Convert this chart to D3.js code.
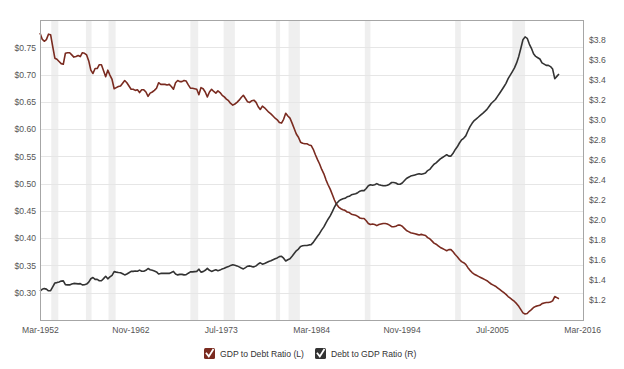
<!DOCTYPE html>
<html>
<head>
<meta charset="utf-8">
<script src="https://cdn.jsdelivr.net/npm/d3@7"></script>
<style>
  html, body { margin: 0; padding: 0; background: #fff; }
  svg { display: block; font-family: Arial, 'Liberation Sans', sans-serif; }
</style>
</head>
<body>
<svg id="chart" width="624" height="369"></svg>
<script>
// quarterly series, first point Mar-1952
const START = '1952-03';

const GDP_TO_DEBT = [
  0.776, 0.765, 0.761, 0.764, 0.774, 0.773, 0.751, 0.730, 0.728, 0.724,
  0.720, 0.719, 0.739, 0.740, 0.740, 0.736, 0.732, 0.733, 0.735, 0.733,
  0.740, 0.739, 0.736, 0.725, 0.708, 0.702, 0.711, 0.711, 0.718, 0.718,
  0.707, 0.696, 0.708, 0.699, 0.691, 0.674, 0.676, 0.678, 0.679, 0.684,
  0.689, 0.685, 0.679, 0.673, 0.673, 0.671, 0.672, 0.667, 0.672, 0.672,
  0.668, 0.660, 0.666, 0.668, 0.671, 0.675, 0.685, 0.682, 0.682, 0.682,
  0.681, 0.682, 0.678, 0.673, 0.685, 0.689, 0.687, 0.687, 0.689, 0.688,
  0.681, 0.675, 0.675, 0.674, 0.673, 0.663, 0.676, 0.674, 0.668, 0.659,
  0.668, 0.673, 0.669, 0.666, 0.670, 0.667, 0.662, 0.659, 0.655, 0.652,
  0.647, 0.644, 0.646, 0.649, 0.653, 0.658, 0.662, 0.656, 0.650, 0.649,
  0.652, 0.653, 0.649, 0.641, 0.636, 0.642, 0.639, 0.635, 0.631, 0.628,
  0.624, 0.620, 0.617, 0.612, 0.611, 0.618, 0.629, 0.624, 0.620, 0.611,
  0.601, 0.591, 0.585, 0.576, 0.574, 0.573, 0.573, 0.571, 0.570, 0.563,
  0.553, 0.544, 0.536, 0.526, 0.518, 0.507, 0.498, 0.490, 0.480, 0.470,
  0.462, 0.457, 0.454, 0.452, 0.451, 0.448, 0.447, 0.444, 0.443, 0.442,
  0.440, 0.437, 0.436, 0.436, 0.432, 0.427, 0.425, 0.426, 0.425, 0.423,
  0.425, 0.426, 0.427, 0.427, 0.426, 0.424, 0.421, 0.421, 0.422, 0.424,
  0.424, 0.422, 0.418, 0.414, 0.412, 0.410, 0.409, 0.408, 0.407, 0.406,
  0.407, 0.406, 0.405, 0.401, 0.399, 0.395, 0.391, 0.389, 0.386, 0.383,
  0.381, 0.379, 0.377, 0.379, 0.379, 0.375, 0.370, 0.366, 0.361, 0.357,
  0.355, 0.352, 0.346, 0.341, 0.337, 0.334, 0.332, 0.330, 0.328, 0.326,
  0.324, 0.322, 0.319, 0.316, 0.314, 0.312, 0.309, 0.306, 0.303, 0.300,
  0.297, 0.293, 0.290, 0.287, 0.284, 0.280, 0.275, 0.269, 0.263, 0.261,
  0.262, 0.266, 0.269, 0.273, 0.275, 0.276, 0.277, 0.280, 0.281, 0.282,
  0.282, 0.283, 0.285, 0.293, 0.291, 0.289
];

const DEBT_TO_GDP = [
  1.289, 1.307, 1.314, 1.309, 1.292, 1.294, 1.332, 1.370, 1.374, 1.381,
  1.389, 1.391, 1.353, 1.351, 1.351, 1.359, 1.366, 1.364, 1.361, 1.364,
  1.351, 1.353, 1.359, 1.379, 1.412, 1.425, 1.406, 1.406, 1.393, 1.393,
  1.414, 1.437, 1.412, 1.431, 1.447, 1.484, 1.479, 1.475, 1.473, 1.462,
  1.451, 1.460, 1.473, 1.486, 1.486, 1.490, 1.488, 1.499, 1.488, 1.488,
  1.497, 1.515, 1.502, 1.497, 1.490, 1.481, 1.460, 1.466, 1.466, 1.466,
  1.468, 1.466, 1.475, 1.486, 1.460, 1.451, 1.456, 1.456, 1.451, 1.453,
  1.468, 1.481, 1.481, 1.484, 1.486, 1.508, 1.479, 1.484, 1.497, 1.517,
  1.497, 1.486, 1.495, 1.502, 1.493, 1.499, 1.511, 1.517, 1.527, 1.534,
  1.546, 1.553, 1.548, 1.541, 1.531, 1.520, 1.511, 1.524, 1.538, 1.541,
  1.534, 1.531, 1.541, 1.560, 1.572, 1.558, 1.565, 1.575, 1.585, 1.592,
  1.603, 1.613, 1.621, 1.634, 1.637, 1.618, 1.590, 1.603, 1.613, 1.637,
  1.664, 1.692, 1.709, 1.736, 1.742, 1.745, 1.745, 1.751, 1.754, 1.776,
  1.808, 1.838, 1.866, 1.901, 1.931, 1.972, 2.008, 2.041, 2.083, 2.128,
  2.165, 2.188, 2.203, 2.212, 2.217, 2.232, 2.237, 2.252, 2.257, 2.262,
  2.273, 2.288, 2.294, 2.294, 2.315, 2.342, 2.353, 2.347, 2.353, 2.364,
  2.353, 2.347, 2.342, 2.342, 2.347, 2.358, 2.375, 2.375, 2.370, 2.358,
  2.358, 2.370, 2.392, 2.415, 2.427, 2.439, 2.445, 2.451, 2.457, 2.463,
  2.457, 2.463, 2.469, 2.494, 2.506, 2.532, 2.558, 2.571, 2.591, 2.611,
  2.625, 2.639, 2.653, 2.639, 2.639, 2.667, 2.703, 2.732, 2.770, 2.801,
  2.817, 2.841, 2.890, 2.933, 2.967, 2.994, 3.012, 3.030, 3.049, 3.067,
  3.086, 3.106, 3.135, 3.165, 3.185, 3.205, 3.236, 3.268, 3.300, 3.333,
  3.367, 3.413, 3.448, 3.484, 3.521, 3.571, 3.636, 3.717, 3.802, 3.831,
  3.817, 3.759, 3.717, 3.663, 3.636, 3.623, 3.610, 3.571, 3.559, 3.546,
  3.546, 3.534, 3.509, 3.413, 3.436, 3.460
];

const RECESSIONS = [
  ['1953-07', '1954-05'], ['1957-08', '1958-04'], ['1960-04', '1961-02'],
  ['1969-12', '1970-11'], ['1973-11', '1975-03'], ['1980-01', '1980-07'],
  ['1981-07', '1982-11'], ['1990-07', '1991-03'], ['2001-03', '2001-11'],
  ['2007-12', '2009-06']
];

const X_TICKS = ['Mar-1952', 'Nov-1962', 'Jul-1973', 'Mar-1984', 'Nov-1994', 'Jul-2005', 'Mar-2016'];
const LEFT_TICKS = [0.30, 0.35, 0.40, 0.45, 0.50, 0.55, 0.60, 0.65, 0.70, 0.75];
const RIGHT_TICKS = [1.2, 1.4, 1.6, 1.8, 2.0, 2.2, 2.4, 2.6, 2.8, 3.0, 3.2, 3.4, 3.6, 3.8];

const SERIES = [
  { name: 'GDP to Debt Ratio (L)', values: GDP_TO_DEBT, axis: 'L', color: '#7a2b20' },
  { name: 'Debt to GDP Ratio (R)', values: DEBT_TO_GDP, axis: 'R', color: '#333333' }
];

const ym = d3.timeParse('%Y-%m');
const my = d3.timeParse('%b-%Y');
const t0 = ym(START);
const qDate = i => d3.timeMonth.offset(t0, i * 3);

const M = { l: 40, t: 20, r: 584, b: 320 };
const svg = d3.select('#chart');

const x = d3.scaleTime().domain([t0, new Date(2016, 4, 15)]).range([M.l, M.r]);
const yL = d3.scaleLinear().domain([0.25, 0.80]).range([M.b, M.t]);
const yR = d3.scaleLinear().domain([1.0, 4.0]).range([M.b, M.t]);

// recession bands
svg.append('g').selectAll('rect').data(RECESSIONS).join('rect')
  .attr('x', d => x(ym(d[0])))
  .attr('width', d => x(ym(d[1])) - x(ym(d[0])))
  .attr('y', M.t).attr('height', M.b - M.t)
  .attr('fill', '#efefef');

// gridlines off the left axis
svg.append('g').selectAll('line').data(LEFT_TICKS).join('line')
  .attr('x1', M.l).attr('x2', M.r)
  .attr('y1', d => Math.round(yL(d)) + 0.5).attr('y2', d => Math.round(yL(d)) + 0.5)
  .attr('stroke', '#e6e6e6').attr('stroke-width', 1);

// lines
SERIES.forEach(s => {
  const yy = s.axis === 'L' ? yL : yR;
  const line = d3.line().x((d, i) => x(qDate(i))).y(d => yy(d));
  svg.append('path').datum(s.values)
    .attr('d', line)
    .attr('fill', 'none').attr('stroke', s.color)
    .attr('stroke-width', 1.6).attr('stroke-linejoin', 'round');
});

// frame
svg.append('rect')
  .attr('x', M.l + 0.5).attr('y', M.t + 0.5)
  .attr('width', M.r - M.l - 1).attr('height', M.b - M.t)
  .attr('fill', 'none').attr('stroke', '#a6a6a6');

const styleAxis = g => {
  g.select('.domain').remove();
  g.selectAll('.tick line').remove();
  g.selectAll('text').attr('fill', '#555').attr('font-size', '8.6px').attr('font-family', 'Arial, Liberation Sans, sans-serif');
};

svg.append('g').attr('transform', `translate(${M.l - 4},0)`)
  .call(d3.axisLeft(yL).tickValues(LEFT_TICKS).tickSize(0).tickPadding(0).tickFormat(d3.format('$.2f')))
  .call(styleAxis);

svg.append('g').attr('transform', `translate(${M.r + 5},0)`)
  .call(d3.axisRight(yR).tickValues(RIGHT_TICKS).tickSize(0).tickPadding(0).tickFormat(d3.format('$.1f')))
  .call(styleAxis);

svg.append('g').attr('transform', `translate(0,${M.b + 7})`)
  .call(d3.axisBottom(x).tickValues(X_TICKS.map(my)).tickSize(0).tickPadding(0).tickFormat(d3.timeFormat('%b-%Y')))
  .call(styleAxis);

// legend with checkbox markers
const legX = [204, 315];
const leg = svg.append('g').selectAll('g').data(SERIES).join('g')
  .attr('transform', (d, i) => `translate(${legX[i]},348)`);
leg.append('rect').attr('width', 11).attr('height', 11).attr('rx', 1.5)
  .attr('fill', d => d.color);
leg.append('path').attr('d', 'M2.5,5.5 L4.8,8.4 L9,1.8')
  .attr('fill', 'none').attr('stroke', '#fff').attr('stroke-width', 1.8)
  .attr('stroke-linecap', 'square');
leg.append('text').attr('x', 16).attr('y', 9.3)
  .attr('font-size', '8.6px').attr('fill', '#333')
  .text(d => d.name);
</script>
</body>
</html>
